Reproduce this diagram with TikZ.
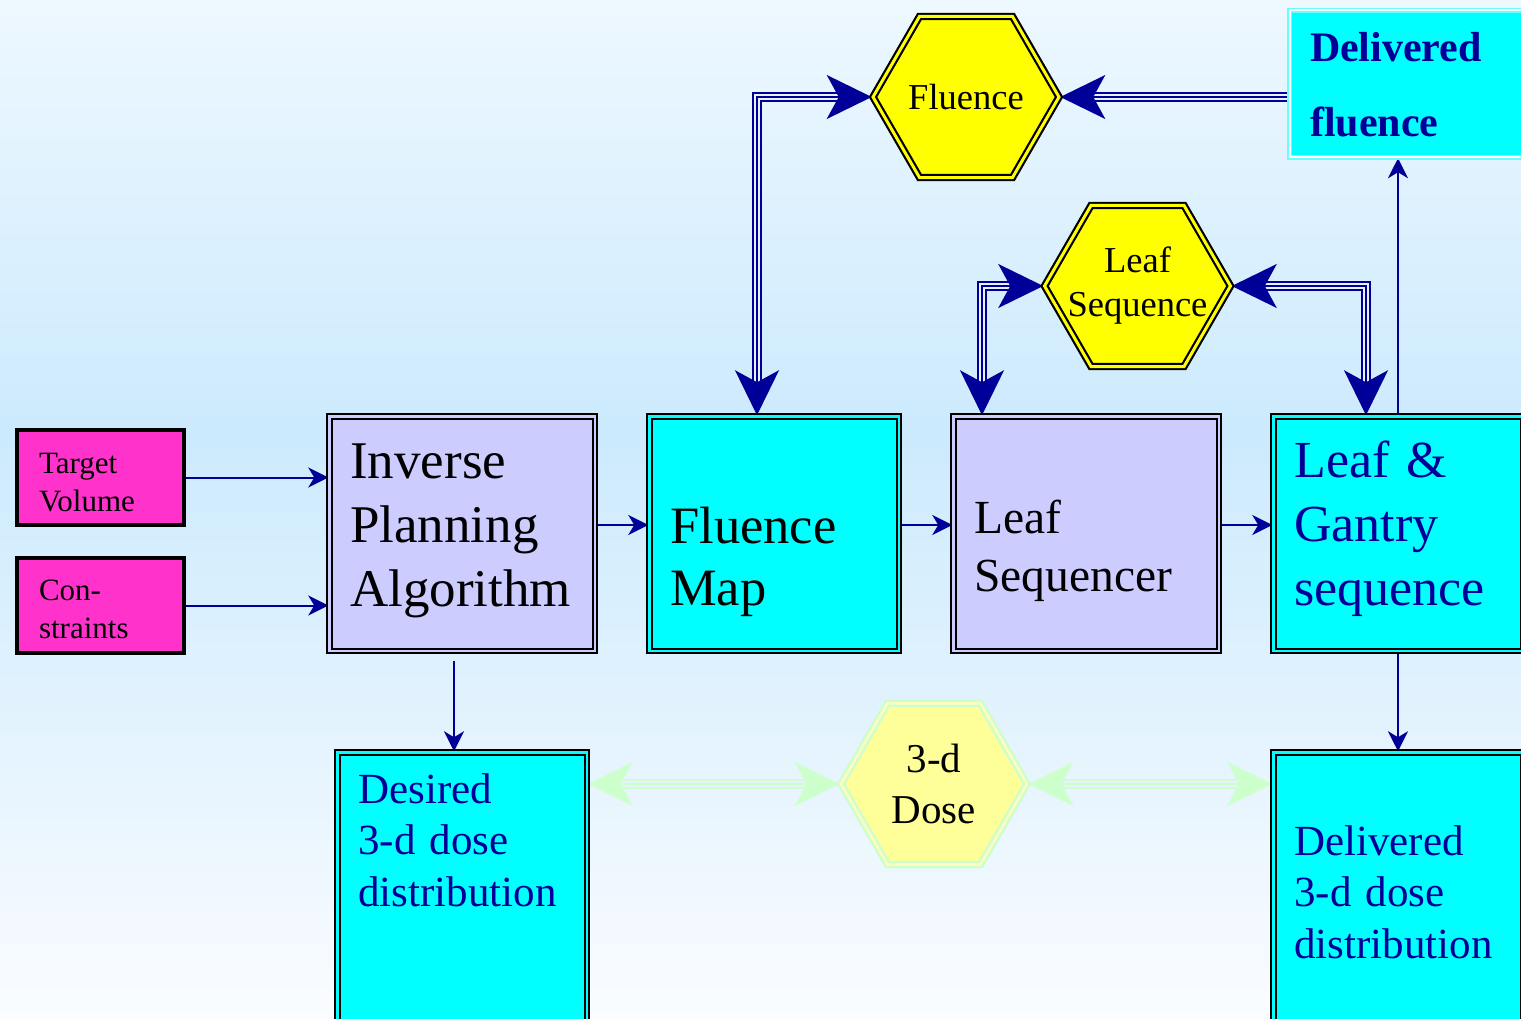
\documentclass[tikz,border=0pt]{standalone}
\usepackage{fontspec}
\setmainfont{Liberation Serif}
\usetikzlibrary{arrows.meta,shapes.geometric}

\definecolor{navy}{HTML}{000099}
\definecolor{magbox}{HTML}{FF33CC}
\definecolor{lavbox}{HTML}{CCCCFF}
\definecolor{cyanbox}{HTML}{00FFFF}
\definecolor{hexyellow}{HTML}{FFFF00}
\definecolor{palegreen}{HTML}{CCFFCC}
\definecolor{paleyellow}{HTML}{FFFF99}
\definecolor{gapcol}{HTML}{E8F2FF}
\definecolor{bgtop}{HTML}{EEF8FF}
\definecolor{bgmid}{HTML}{CCEAFD}
\definecolor{bgbot}{HTML}{FAFCFF}

\pgfdeclarelayer{backdrop}
\pgfdeclarelayer{background}
\pgfsetlayers{backdrop,background,main}

\tikzset{
    bigtip/.tip={Stealth[length=45pt,width=44pt,inset=12pt]},
    smalltip/.tip={Stealth[length=20pt,width=20pt,inset=6pt]},
}

\begin{document}
\begin{tikzpicture} [
                x=1pt, y=-1pt,
                inbox/.style={draw,line width=4pt,fill=magbox,inner xsep=22pt,inner ysep=0pt,
                    text width=123pt,align=left,font=\fontsize{31}{38}\selectfont},
                proc/.style={draw,line width=2pt,double=#1,double distance=2.5pt,fill=#1,
                    inner xsep=21pt,inner ysep=0pt,align=left},
                hexa/.style={regular polygon,regular polygon sides=6,minimum size=186pt,inner sep=-25pt,
                    draw,line width=2.2pt,double=hexyellow,double distance=3pt,fill=hexyellow,
                    align=center,font=\fontsize{36.5}{44}\selectfont},
                link/.style={draw=navy,line width=2pt,arrows={-smalltip}},
                trunk/.style={draw=#1,line width=1.6pt,arrows={bigtip-bigtip},
                    preaction={draw=#1,line width=10pt,arrows=-,shorten <=20pt,shorten >=20pt},
                    preaction={draw=gapcol,line width=6.8pt,arrows=-,shorten <=20pt,shorten >=20pt}},
            ]
            \useasboundingbox (0,0) rectangle (1521,1019);
            \begin{pgfonlayer}{backdrop}
                \shade[top color=bgtop,bottom color=bgmid] (0,0) rectangle (1521,431);
                \shade[top color=bgmid,bottom color=bgbot] (0,430) rectangle (1521,1019);
            \end{pgfonlayer}

            % inputs
            \node[inbox,text height=43pt,text depth=52pt] (tv) at (100.5,477.5) {Target\\Volume};
            \node[inbox,text height=42pt,text depth=53pt] (cs) at (100.5,605.5) {Con-\\straints};

            % main chain
            \node[proc=lavbox,text width=223.5pt,text height=61.75pt,text depth=172.75pt,
                font=\fontsize{53}{64}\selectfont] (ipa) at (462,533.5) {Inverse\\Planning\\Algorithm};
            \node[proc=cyanbox,text width=207.5pt,text height=126.75pt,text depth=107.75pt,
                font=\fontsize{52.5}{62}\selectfont] (fm) at (774,533.5) {Fluence\\Map};
            \node[proc=lavbox,text width=223.5pt,text height=116.75pt,text depth=117.75pt,
                font=\fontsize{47.5}{58}\selectfont] (lsq) at (1086,533.5) {Leaf\\Sequencer};
            \node[proc=cyanbox,text=navy,text width=207.5pt,text height=60.75pt,text depth=173.75pt,
                font=\fontsize{52}{64}\selectfont] (lg) at (1398,533.5) {Leaf \&\\Gantry\\sequence};

            % dose boxes
            \node[proc=cyanbox,text=navy,text width=207.5pt,text height=50.75pt,text depth=233.75pt,
                font=\fontsize{43}{51.5}\selectfont] (des) at (462,894.5) {Desired\\3-d dose\\distribution};
            \node[proc=cyanbox,text=navy,text width=207.5pt,text height=102.75pt,text depth=181.75pt,
                font=\fontsize{43}{51.5}\selectfont] (dd) at (1398,894.5) {Delivered\\3-d dose\\distribution};

            % delivered fluence
            \node[draw=cyanbox!60,line width=1.5pt,double=white,double distance=2pt,fill=cyanbox,
                text=navy,inner xsep=20.5pt,inner ysep=0pt,text width=210pt,align=left,
                text height=51.5pt,text depth=95.5pt,font=\bfseries\fontsize{42}{75}\selectfont]
                (dfl) at (1415,84) {Delivered\\fluence};

            % hexagons
            \node[hexa] (fl) at (966,97) {Fluence};
            \node[hexa] (lsh) at (1137.5,286) {Leaf\\Sequence};
            \node[hexa,draw=palegreen,double=yellow!25,fill=paleyellow,line width=2.5pt,
                double distance=2.5pt,font=\fontsize{41}{51}\selectfont] (dose) at (934,784) {3-d\\Dose};

            \begin{pgfonlayer}{background}
                \draw[link] (tv.east) -- (tv.east -| ipa.west);
                \draw[link] (cs.east) -- (cs.east -| ipa.west);
                \foreach \source/\dest in {ipa/fm, fm/lsq, lsq/lg}
                    \draw[link] ([yshift=8.5pt]\source.east) -- ([yshift=8.5pt]\dest.west);
                \draw[link,shorten <=9pt] ([xshift=-8pt]ipa.south) -- ([xshift=-8pt]des.north);
                \draw[link] (lg.south) -- (dd.north);
                \draw[link] (lg.north) -- (lg.north |- dfl.south);

                \draw[trunk=navy] (fl.west) -| ([xshift=-17pt]fm.north);
                \draw[trunk=navy,arrows={bigtip-}] (fl.east) -- ([xshift=25pt]fl.east -| dfl.west);
                \draw[trunk=navy] (lsh.west) -| ([xshift=-104pt]lsq.north);
                \draw[trunk=navy] (lsh.east) -| ([xshift=-32pt]lg.north);
                \draw[trunk=palegreen] (dose.west) -- (dose.west -| des.east);
                \draw[trunk=palegreen] (dose.east) -- (dose.east -| dd.west);
            \end{pgfonlayer}
        \end{tikzpicture}
\end{document}
